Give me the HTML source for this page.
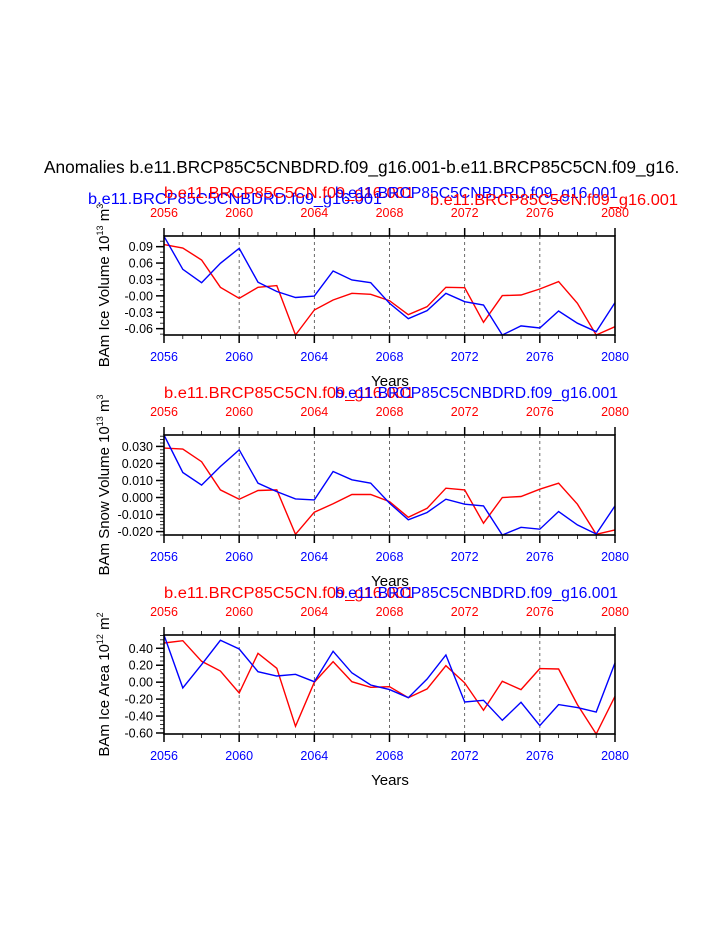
<!DOCTYPE html>
<html><head><meta charset="utf-8"><style>
html,body{margin:0;padding:0;background:#fff;}
svg{display:block;font-family:"Liberation Sans",sans-serif;}
</style></head><body>
<svg id="chart" width="723" height="935" viewBox="0 0 723 935" xmlns="http://www.w3.org/2000/svg">
<defs><clipPath id="tclip"><rect x="0" y="0" width="678" height="935"/></clipPath></defs>
<g clip-path="url(#tclip)"><text x="44" y="173" font-size="17.3" fill="#000">Anomalies b.e11.BRCP85C5CNBDRD.f09_g16.001-b.e11.BRCP85C5CN.f09_g16.001</text></g>
</svg>
<script>
const years = [2056,2057,2058,2059,2060,2061,2062,2063,2064,2065,2066,2067,2068,2069,2070,2071,2072,2073,2074,2075,2076,2077,2078,2079,2080];
const xTicks = [2056,2060,2064,2068,2072,2076,2080];
const iceVolBlue = [0.109,0.0485,0.024,0.0595,0.087,0.025,0.008,-0.003,-0.0005,0.0455,0.029,0.024,-0.0137,-0.0417,-0.027,0.0046,-0.0106,-0.0167,-0.0716,-0.055,-0.0588,-0.0277,-0.05,-0.0655,-0.0124];
const iceVolRed = [0.0937,0.0876,0.0656,0.0156,-0.0045,0.0156,0.0187,-0.0716,-0.0259,-0.0076,0.0046,0.0028,-0.0088,-0.0344,-0.0198,0.0156,0.015,-0.0484,0.0004,0.0016,0.0126,0.026,-0.0137,-0.072,-0.0564];
const iceVolTicks = [0.09,0.06,0.03,0.0,-0.03,-0.06];
const iceVolLabels = ["0.09","0.06","0.03","-0.00","-0.03","-0.06"];
const snowBlue = [0.0367,0.0147,0.0073,0.0182,0.028,0.0084,0.0035,-0.0008,-0.0014,0.0153,0.0104,0.0084,-0.0033,-0.0131,-0.0088,-0.001,-0.0039,-0.0049,-0.0222,-0.0175,-0.0186,-0.0082,-0.0161,-0.0214,-0.0049];
const snowRed = [0.029,0.0284,0.021,0.0045,-0.001,0.0041,0.0045,-0.0216,-0.0086,-0.0037,0.0018,0.0018,-0.0024,-0.0116,-0.0063,0.0055,0.0045,-0.0151,0,0.0006,0.0049,0.0084,-0.0039,-0.0216,-0.019];
const snowTicks = [0.03,0.02,0.01,0,-0.01,-0.02];
const snowLabels = ["0.030","0.020","0.010","0.000","-0.010","-0.020"];
const areaBlue = [0.557,-0.068,0.207,0.494,0.392,0.124,0.073,0.093,0.006,0.365,0.109,-0.033,-0.088,-0.183,0.038,0.321,-0.234,-0.214,-0.45,-0.238,-0.513,-0.265,-0.30,-0.352,0.227];
const areaRed = [0.463,0.49,0.246,0.132,-0.128,0.341,0.164,-0.521,-0.002,0.243,0.006,-0.06,-0.053,-0.183,-0.08,0.195,-0.009,-0.332,0.01,-0.088,0.16,0.156,-0.265,-0.62,-0.167];
const areaTicks = [0.4,0.2,0,-0.2,-0.4,-0.6];
const areaLabels = ["0.40","0.20","0.00","-0.20","-0.40","-0.60"];

const NS="http://www.w3.org/2000/svg";
const svg=document.getElementById('chart');
function mk(tag,attrs,parent,text){const e=document.createElementNS(NS,tag);for(const k in attrs)e.setAttribute(k,attrs[k]);if(text!==undefined)e.textContent=text;(parent||svg).appendChild(e);return e;}
const X0=164,X1=615;
function xs(y){return X0+(y-2056)/(2080-2056)*(X1-X0);}

function panel(name,top,bot,ymax,ymin,ticks,labels,minorStep,blue,red,ytitle,sup,unit,titles){
  const g=mk('g',{});
  
  
  const ys=v=>top+(ymax-v)/(ymax-ymin)*(bot-top);
  titles.forEach(t=>{const e=mk('text',{x:t.x,y:t.y,'font-size':15.5,fill:t.c,textLength:t.w,lengthAdjust:'spacingAndGlyphs'},g,t.s);
    
    });
  xTicks.slice(1,-1).forEach(yr=>{const l=mk('line',{x1:xs(yr),x2:xs(yr),y1:top,y2:bot,stroke:'#444','stroke-width':0.8,'stroke-dasharray':'3,3'},g);
    
    });
  years.forEach(yr=>{const maj=xTicks.includes(yr);const len=maj?8:4;
    mk('line',{x1:xs(yr),x2:xs(yr),y1:top,y2:top-len,stroke:'#000','stroke-width':maj?1.5:0.8},g);
    mk('line',{x1:xs(yr),x2:xs(yr),y1:bot,y2:bot+len,stroke:'#000','stroke-width':maj?1.5:0.8},g);});
  xTicks.forEach(yr=>{
    const a=mk('text',{x:xs(yr),y:top-19,'font-size':12.5,fill:'#f00','text-anchor':'middle'},g,yr);
    
    
    const b=mk('text',{x:xs(yr),y:bot+26,'font-size':12.5,fill:'#00f','text-anchor':'middle'},g,yr);
    
    });
  for(let v=ymin-((ymin%minorStep)+minorStep)%minorStep; v<=ymax+1e-9; v+=minorStep){ if(v<ymin-1e-9)continue;
    mk('line',{x1:X0,x2:X0-4,y1:ys(v),y2:ys(v),stroke:'#000','stroke-width':0.8},g);}
  ticks.forEach((v,i)=>{mk('line',{x1:X0,x2:X0-8,y1:ys(v),y2:ys(v),stroke:'#000','stroke-width':1.5},g);
    const t=mk('text',{x:X0-11,y:ys(v)+4.5,'font-size':12.5,'text-anchor':'end',fill:'#000'},g,labels[i]);
    
    });
  const pts=arr=>arr.map((v,i)=>xs(years[i]).toFixed(1)+','+ys(Math.max(ymin,Math.min(ymax,v))).toFixed(1)).join(' ');
  const pr=mk('polyline',{points:pts(red),fill:'none',stroke:'#f00','stroke-width':1.4},g);
  
  
  const pb=mk('polyline',{points:pts(blue),fill:'none',stroke:'#00f','stroke-width':1.4},g);
  
  
  mk('rect',{x:X0,y:top,width:X1-X0,height:bot-top,fill:'none',stroke:'#000','stroke-width':1.6},g);
  const yt=mk('text',{transform:`translate(109,${(top+bot)/2}) rotate(-90)`,'font-size':15,'text-anchor':'middle',fill:'#000'},g);
  
  
  mk('tspan',{},yt,ytitle+' 10');
  mk('tspan',{'font-size':9,dy:-6},yt,sup);
  mk('tspan',{dy:6},yt,' m');
  mk('tspan',{'font-size':9,dy:-6},yt,unit);
  const xt=mk('text',{x:390,y:bot+51,'font-size':15,'text-anchor':'middle',fill:'#000'},g,'Years');
  
  
}
const B='b.e11.BRCP85C5CNBDRD.f09_g16.001', R='b.e11.BRCP85C5CN.f09_g16.001';
panel('ice-volume-panel',236,335,0.1095,-0.0716,iceVolTicks,iceVolLabels,0.01,iceVolBlue,iceVolRed,'BAm Ice Volume','13','3',
 [{x:88,y:204,c:'#00f',s:B,w:294},{x:164,y:198,c:'#f00',s:R,w:250},{x:335,y:198,c:'#00f',s:B,w:283},{x:430,y:205,c:'#f00',s:R,w:248}]);
panel('snow-volume-panel',435,535,0.0367,-0.022,snowTicks,snowLabels,0.002,snowBlue,snowRed,'BAm Snow Volume','13','3',
 [{x:164,y:398,c:'#f00',s:R,w:250},{x:335,y:398,c:'#00f',s:B,w:283}]);
panel('ice-area-panel',635,734,0.557,-0.612,areaTicks,areaLabels,0.05,areaBlue,areaRed,'BAm Ice Area','12','2',
 [{x:164,y:598,c:'#f00',s:R,w:250},{x:335,y:598,c:'#00f',s:B,w:283}]);
</script>
</body></html>
